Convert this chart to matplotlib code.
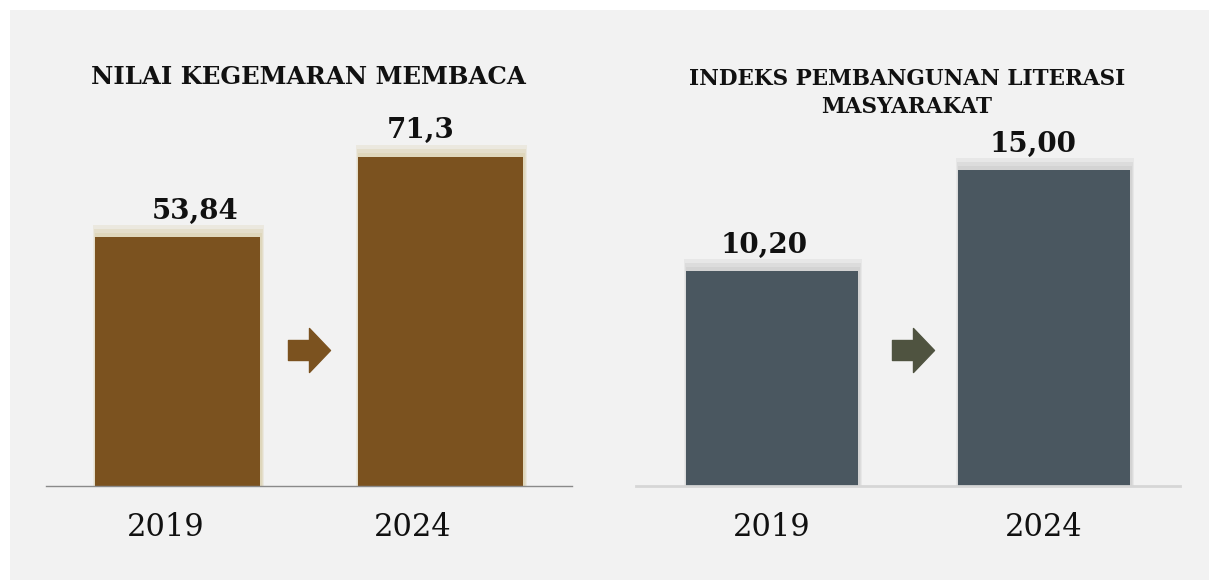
import numpy as np
import matplotlib.pyplot as plt
from matplotlib.patches import Rectangle
from matplotlib.path import Path
from matplotlib.transforms import blended_transform_factory

years = ['2019', '2024']
kegemaran = [53.84, 71.3]
kegemaran_labels = ['53,84', '71,3']
iplm = [10.20, 15.00]
iplm_labels = ['10,20', '15,00']

W, H = 1209, 580
fig = plt.figure(figsize=(W / 100, H / 100), dpi=100, facecolor='white')
fig.patches.append(Rectangle((10 / W, 0), 1 - 10 / W, 570 / H, transform=fig.transFigure,
                             facecolor='#f2f2f2', edgecolor='none', zorder=-10))

serif = 'DejaVu Serif'

# block arrow used between the two bars
arrow = Path([(-21, -10), (0, -10), (0, -22), (21, 0), (0, 22), (0, 10), (-21, 10), (-21, -10)],
             [Path.MOVETO] + [Path.LINETO] * 6 + [Path.CLOSEPOLY])


def panel(left, width, values, labels, px_per_unit, bar_color, glow_color, arrow_color,
          line_color, line_w, label_dx, year_dx, arrow_x):
    ax = fig.add_axes([left / W, 94 / H, width / W, 386 / H])
    ax.set_facecolor('none')
    x = np.arange(len(values))
    vals = np.array(values)
    # soft glow around the top of the bars
    for grow, a in [(12, 0.3), (8, 0.45), (4, 0.65)]:
        ax.bar(x + 1 / 270, vals + grow / px_per_unit, width=0.63 + grow * 0.5 / 270,
               color=glow_color, alpha=a, zorder=1, linewidth=0)
    ax.bar(x, vals, width=0.63, color=bar_color, zorder=3, linewidth=0)
    ax.set_xlim(-0.5, 1.5)
    ax.set_ylim(0, 386 / px_per_unit)
    ax.axis('off')
    ax.axhline(0, color=line_color, lw=line_w, zorder=4, clip_on=False)
    for xi, v, lab, dx in zip(x, vals, labels, label_dx):
        ax.annotate(lab, (xi, v), xytext=(dx * 0.72, 26 * 0.72), textcoords='offset points',
                    ha='center', va='center', fontsize=20, fontweight='bold',
                    family=serif, color='#111111')
    for xi, yr, dx in zip(x, years, year_dx):
        ax.annotate(yr, (xi, 0), xytext=(dx * 0.72, -41 * 0.72), textcoords='offset points',
                    ha='center', va='center', fontsize=22, family=serif, color='#111111')
    trans = blended_transform_factory(ax.transData, ax.transAxes)
    ax.plot(arrow_x, 0.352, marker=arrow, ms=31.7, color=arrow_color, transform=trans,
            linestyle='none', clip_on=False)
    return ax


panel(46, 526, kegemaran, kegemaran_labels, 4.62, '#7b521f', '#ddd4b4', '#7b521f',
      '#8a8a8a', 1.0, [18, -20], [-12, -28], 0.5)
panel(636, 544, iplm, iplm_labels, 21.05, '#4a5760', '#cfcfcf', '#4f5340',
      '#d6d6d6', 2.0, [-8, -11], [0, 0], 0.52)

fig.text(308 / W, 1 - 77 / H, 'NILAI KEGEMARAN MEMBACA', ha='center', va='center',
         fontsize=17.6, fontweight='bold', family=serif, color='#111111')
fig.text(907 / W, 1 - 93 / H, 'INDEKS PEMBANGUNAN LITERASI\nMASYARAKAT', ha='center',
         va='center', fontsize=15.5, fontweight='bold', family=serif, color='#111111',
         linespacing=1.4)

fig.savefig('out.png', dpi=100, facecolor='white')
